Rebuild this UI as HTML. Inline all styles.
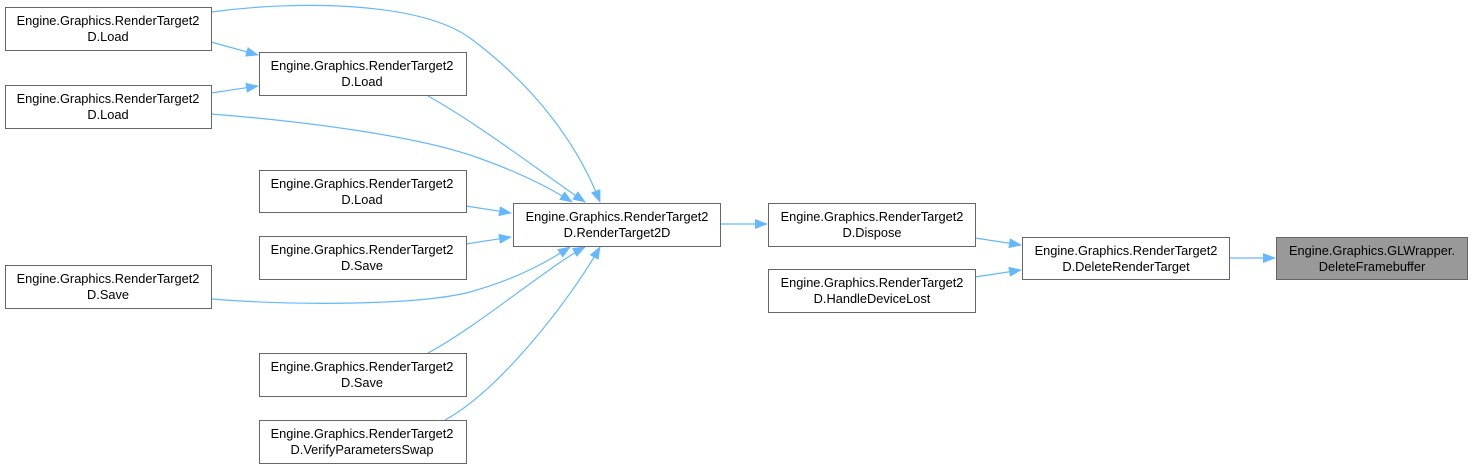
<!DOCTYPE html>
<html><head><meta charset="utf-8"><style>
body{margin:0;background:#fff;width:1472px;height:468px;overflow:hidden}
svg{position:absolute;left:0;top:0}
text{font-family:"Liberation Sans",Arial,sans-serif;font-size:12.8px;fill:#000}
</style></head><body>
<svg width="1472" height="468" viewBox="0 0 1472 468">
<defs><marker id="a" markerWidth="13" markerHeight="10" refX="12" refY="5" orient="auto" markerUnits="userSpaceOnUse">
<path d="M0,0 L13,5 L0,10 Z" fill="#63b8ff"/></marker></defs>
<g fill="none" stroke="#63b8ff" stroke-width="1.2" marker-end="url(#a)">
<path d="M211,42 L258,55"/>
<path d="M211,93 L258,86"/>
<path d="M211,12 C300,0 420,2 470,38 C540,90 580,150 600,202"/>
<path d="M428,96 C480,125 545,175 585,202"/>
<path d="M211,114 C300,121 410,135 470,155 C520,172 550,188 572,202"/>
<path d="M466,206 L511,213"/>
<path d="M466,244 L511,237"/>
<path d="M211,299 C300,306 420,305 470,292 C520,278 550,260 570,247"/>
<path d="M428,353 C480,325 550,265 585,247"/>
<path d="M445,420 C500,390 570,300 600,247"/>
<path d="M720,224 L767,224"/>
<path d="M975,238 L1021,245"/>
<path d="M975,277 L1021,270"/>
<path d="M1229,258 L1275,258"/>
</g>
<g stroke="#666" stroke-width="1" fill="#fff">
<rect x="5.5" y="7.5" width="206" height="43"/>
<rect x="5.5" y="85.5" width="206" height="43"/>
<rect x="5.5" y="265.5" width="206" height="43"/>
<rect x="259.5" y="52.5" width="207" height="43"/>
<rect x="259.5" y="170.5" width="207" height="42"/>
<rect x="259.5" y="236.5" width="207" height="43"/>
<rect x="259.5" y="353.5" width="207" height="43"/>
<rect x="259.5" y="420.5" width="207" height="43"/>
<rect x="513.5" y="203.5" width="207" height="43"/>
<rect x="768.5" y="203.5" width="207" height="43"/>
<rect x="768.5" y="269.5" width="207" height="43"/>
<rect x="1022.5" y="237.5" width="207" height="42"/>
<rect x="1276.5" y="237.5" width="191" height="42" fill="#999"/>
</g>
<g text-anchor="middle">
<text x="108" y="25">Engine.Graphics.RenderTarget2</text><text x="108" y="41">D.Load</text>
<text x="108" y="103">Engine.Graphics.RenderTarget2</text><text x="108" y="119">D.Load</text>
<text x="108" y="283">Engine.Graphics.RenderTarget2</text><text x="108" y="299">D.Save</text>
<text x="362" y="70">Engine.Graphics.RenderTarget2</text><text x="362" y="86">D.Load</text>
<text x="362" y="188">Engine.Graphics.RenderTarget2</text><text x="362" y="204">D.Load</text>
<text x="362" y="254">Engine.Graphics.RenderTarget2</text><text x="362" y="270">D.Save</text>
<text x="362" y="371">Engine.Graphics.RenderTarget2</text><text x="362" y="387">D.Save</text>
<text x="362" y="438">Engine.Graphics.RenderTarget2</text><text x="362" y="454">D.VerifyParametersSwap</text>
<text x="617" y="221">Engine.Graphics.RenderTarget2</text><text x="617" y="237">D.RenderTarget2D</text>
<text x="872" y="221">Engine.Graphics.RenderTarget2</text><text x="872" y="237">D.Dispose</text>
<text x="872" y="287">Engine.Graphics.RenderTarget2</text><text x="872" y="303">D.HandleDeviceLost</text>
<text x="1126" y="255">Engine.Graphics.RenderTarget2</text><text x="1126" y="271">D.DeleteRenderTarget</text>
<text x="1372" y="255">Engine.Graphics.GLWrapper.</text><text x="1372" y="271">DeleteFramebuffer</text>
</g>
</svg>
</body></html>
